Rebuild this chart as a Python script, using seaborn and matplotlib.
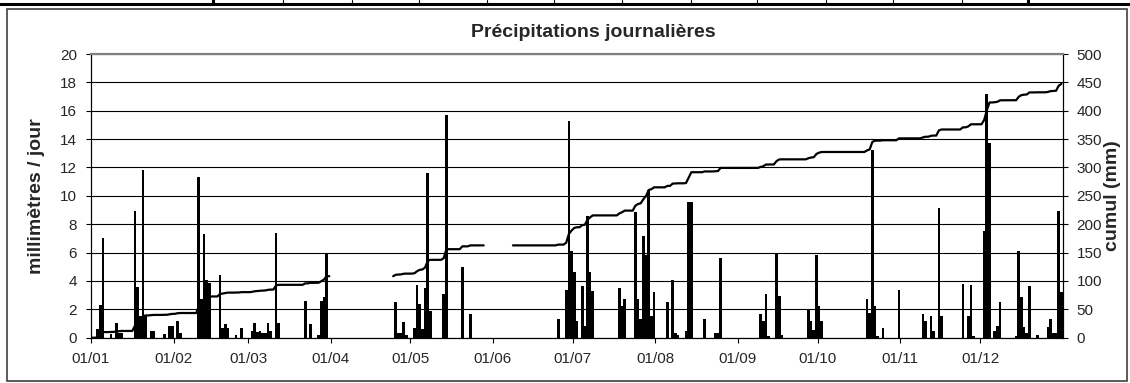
import numpy as np
import pandas as pd
import seaborn as sns
import matplotlib.pyplot as plt
from matplotlib.lines import Line2D
from matplotlib.patches import Rectangle

# daily rainfall (mm), only the days with rain, date as dd/mm
rain_dates = [
    "03/01", "04/01", "05/01", "08/01", "10/01", "11/01", "12/01",
    "17/01", "18/01", "19/01", "20/01", "21/01", "23/01", "24/01",
    "28/01", "30/01", "31/01",
    "02/02", "03/02", "10/02", "11/02", "12/02", "13/02", "14/02",
    "18/02", "19/02", "20/02", "21/02", "24/02", "26/02",
    "02/03", "03/03", "04/03", "05/03", "06/03", "07/03", "08/03", "09/03",
    "11/03", "12/03", "22/03", "24/03", "27/03", "28/03", "29/03", "30/03",
    "25/04", "26/04", "27/04", "28/04", "29/04",
    "02/05", "03/05", "04/05", "05/05", "06/05", "07/05", "08/05",
    "13/05", "14/05", "20/05", "23/05",
    "25/06", "28/06", "29/06", "30/06", "01/07", "02/07",
    "04/07", "05/07", "06/07", "07/07", "08/07",
    "18/07", "19/07", "20/07",
    "24/07", "25/07", "26/07", "27/07", "28/07", "29/07", "30/07", "31/07",
    "05/08", "07/08", "08/08", "09/08", "12/08", "13/08", "14/08",
    "19/08", "23/08", "24/08", "25/08",
    "09/09", "10/09", "11/09", "12/09", "15/09", "16/09", "17/09",
    "27/09", "28/09", "29/09", "30/09", "01/10", "02/10",
    "19/10", "20/10", "21/10", "22/10", "23/10", "25/10", "31/10",
    "09/11", "10/11", "12/11", "13/11", "15/11", "16/11",
    "24/11", "26/11", "27/11", "28/11",
    "02/12", "03/12", "04/12", "06/12", "07/12", "08/12",
    "14/12", "15/12", "16/12", "17/12", "18/12", "19/12", "22/12",
    "26/12", "27/12", "28/12", "29/12", "30/12", "31/12",
]
rain_mm = [
    0.6, 2.3, 7.0, 0.25, 1.05, 0.35, 0.35,
    8.95, 3.55, 1.5, 11.85, 1.5, 0.45, 0.45,
    0.25, 0.8, 0.8,
    1.15, 0.35, 11.3, 2.7, 7.3, 4.05, 3.85,
    4.4, 0.7, 1.0, 0.65, 0.2, 0.65,
    0.5, 1.05, 0.4, 0.45, 0.3, 0.3, 1.05, 0.45,
    7.35, 1.05, 2.6, 0.95, 0.2, 2.6, 2.85, 6.0,
    2.55, 0.35, 0.35, 1.1, 0.2,
    0.65, 3.7, 2.35, 0.6, 3.5, 11.6, 1.9,
    3.05, 15.7, 5.0, 1.7,
    1.35, 3.35, 15.3, 6.1, 4.65, 1.2,
    3.65, 0.8, 8.55, 4.6, 3.3,
    3.5, 2.2, 2.75,
    8.85, 2.75, 1.35, 7.15, 5.8, 10.4, 1.5, 3.2,
    2.55, 4.05, 0.3, 0.2, 0.45, 9.55, 9.55,
    1.35, 0.35, 0.3, 5.6,
    1.65, 1.2, 3.05, 0.15, 5.9, 2.95, 0.2,
    2.0, 1.2, 0.55, 5.8, 2.25, 1.15,
    2.75, 1.75, 13.2, 2.25, 0.1, 0.65, 3.35,
    1.65, 1.2, 1.55, 0.5, 9.15, 1.55,
    3.8, 1.55, 3.75, 0.1,
    7.55, 17.2, 13.7, 0.45, 0.8, 2.55,
    0.15, 6.1, 2.9, 0.75, 0.35, 3.65, 0.2,
    0.75, 1.35, 0.3, 0.3, 8.9, 3.25,
]
# periods without data (no cumulative line drawn)
gap_start = ["01/04", "29/05"]
gap_end = ["23/04", "07/06"]

month_labels = ["01/01", "01/02", "01/03", "01/04", "01/05", "01/06",
                "01/07", "01/08", "01/09", "01/10", "01/11", "01/12"]

YEAR = "2005"  # any non leap year, only used to turn dd/mm into day numbers


def day_of_year(s):
    return pd.to_datetime(s + "/" + YEAR, format="%d/%m/%Y").dayofyear - 1


df = pd.DataFrame({"day": [day_of_year(d) for d in rain_dates], "mm": rain_mm})

# full year, cumulative sum, blanked over the missing periods
daily = pd.Series(0.0, index=np.arange(365))
daily[df["day"].values] = df["mm"].values
for a, b in zip(gap_start, gap_end):
    daily.loc[day_of_year(a):day_of_year(b)] = np.nan
cum = daily.cumsum()
line_df = pd.DataFrame({"x": daily.index + 0.5, "cum": cum.values})
line_df["seg"] = line_df["cum"].isna().cumsum()
line_df = line_df.dropna()

sns.set_theme(style="white")
plt.rcParams["font.family"] = ["Liberation Sans", "DejaVu Sans"]
plt.rcParams["font.size"] = 11

fig = plt.figure(figsize=(11.3, 3.83), dpi=100)
ax = fig.add_axes([91 / 1130, 1 - 337.7 / 383, 971.7 / 1130, 283.7 / 383])

ax.set_axisbelow(True)
ax.yaxis.grid(True, color="black", linewidth=0.8)
sns.histplot(data=df, x="day", weights="mm", bins=365, binrange=(0, 365),
             ax=ax, color="black", alpha=1, linewidth=0, shrink=1)

ax.set_xlim(0, 365)
ax.set_ylim(0, 20)
ax.set_yticks(np.arange(0, 21, 2))
ax.set_xticks([day_of_year(m) for m in month_labels])
ax.set_xticklabels(month_labels)
ax.set_xlabel("")
ax.set_ylabel("millimètres / jour", fontweight="bold", fontsize=14)
ax.yaxis.set_label_coords(-0.047, 0.5)
ax.tick_params(axis="both", which="major", direction="out", length=3.6,
               width=0.8, color="black", labelsize=11, pad=6.5, left=True,
               bottom=True)

ax2 = ax.twinx()
sns.lineplot(data=line_df, x="x", y="cum", units="seg", estimator=None,
             color="black", linewidth=1.6, ax=ax2)
ax2.set_ylim(0, 500)
ax2.set_yticks(np.arange(0, 501, 50))
ax2.set_ylabel("cumul (mm)", fontweight="bold", fontsize=14)
ax2.yaxis.set_label_coords(1.0425, 0.5)
ax2.tick_params(axis="y", direction="out", length=3.6, width=0.8,
                color="black", labelsize=11, pad=6.5, right=True)

for a in (ax, ax2):
    for side in ("left", "right", "bottom"):
        a.spines[side].set_color("black")
        a.spines[side].set_linewidth(0.8)
    a.spines["top"].set_color("#808080")
    a.spines["top"].set_linewidth(1.5)

fig.text(593 / 1130, 1 - 37 / 383, "Précipitations journalières",
         ha="center", va="baseline", fontsize=14, fontweight="bold")

# chart frame and the table border above it
fig.add_artist(Rectangle((7 / 1130, 0.004), 1120 / 1130, 1 - 9 / 383 - 0.004,
                         transform=fig.transFigure, fill=False,
                         edgecolor="#404040", linewidth=1.2))
fig.add_artist(Line2D([0, 1], [1 - 3.5 / 383] * 2, transform=fig.transFigure,
                      color="black", linewidth=2.2))
for xp, lw in [(213, 2.2), (283, 0.8), (352, 0.8), (419, 0.8), (487, 0.8),
               (554, 0.8), (622, 0.8), (691, 0.8), (757, 0.8), (826, 0.8),
               (893, 0.8), (962, 0.8), (1028, 2.2)]:
    fig.add_artist(Line2D([xp / 1130] * 2, [1, 1 - 3.5 / 383],
                          transform=fig.transFigure, color="black",
                          linewidth=lw))

fig.savefig("out.png", dpi=100)
